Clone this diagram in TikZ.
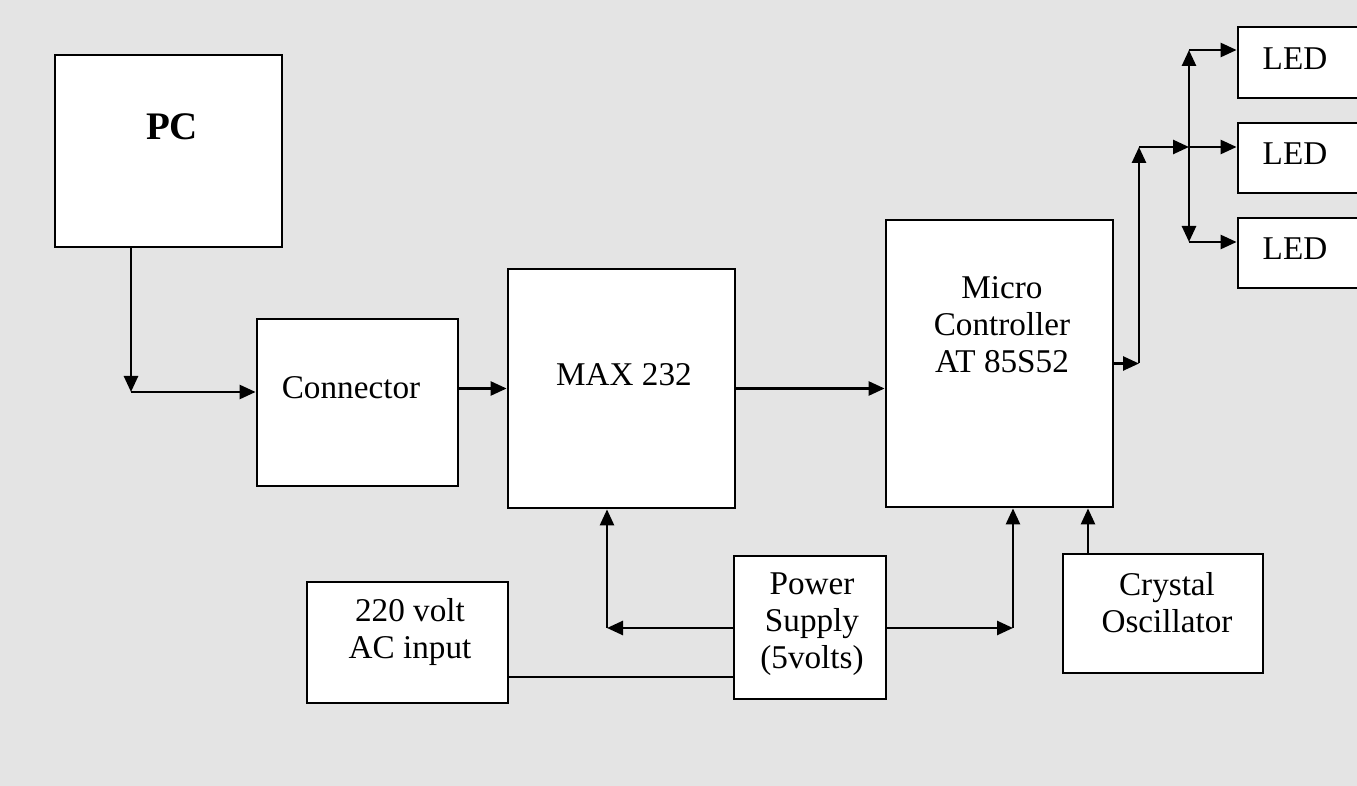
\documentclass[tikz,border=0pt]{standalone}
\usepackage{fontspec}
\setmainfont{Liberation Serif}
\usetikzlibrary{arrows.meta,positioning}
\definecolor{paperCol}{RGB}{228,228,228}

\begin{document}
\begin{tikzpicture}[
    x=0.5pt, y=-0.5pt,
    >={Triangle[length=8pt,width=7pt]},
    blk/.style={draw, line width=1.4pt, fill=white, inner sep=0pt},
    lbl/.style={font=\fontsize{16.6}{18.5}\selectfont, align=center, inner sep=0pt},
    wire/.style={line width=1.3pt},
    flow/.style={->, line width=1.3pt}
]

    % ---------------- page ----------------
    \useasboundingbox (0,0) rectangle (1357,786);
    \fill[paperCol] (0,0) rectangle (1357,786);

    % ---------------- blocks ----------------
    \node[blk, minimum width=113.5pt, minimum height=96pt] (pc) at (168.5,151) {};
    \node[blk, minimum width=100.5pt, minimum height=83.5pt] (conn) at (357.5,402.5) {};
    \node[blk, minimum width=113.5pt, minimum height=119.5pt] (max) at (621.5,388.5) {};
    \node[blk, minimum width=113.5pt, minimum height=143.5pt] (mcu) at (999.5,363.5) {};
    \node[blk, minimum width=61pt, minimum height=35.5pt] (led1) at (1299,62.5) {};
    \node[blk, minimum width=61pt, minimum height=35pt] (led2) at (1299,158) {};
    \node[blk, minimum width=61pt, minimum height=35pt] (led3) at (1299,253) {};
    \node[blk, minimum width=100.5pt, minimum height=60.5pt] (ac) at (407.5,642.5) {};
    \node[blk, minimum width=76pt, minimum height=71.5pt] (pwr) at (810,627.5) {};
    \node[blk, minimum width=100pt, minimum height=59.5pt] (xtal) at (1163,613.5) {};

    % ---------------- labels ----------------
    \node[lbl, font=\fontsize{19.5}{22}\selectfont\bfseries] (pcTxt) at (172,127) {PC};
    \node[lbl] (connTxt) at (351,388) {Connector};
    \node[lbl] (maxTxt) at (624,375) {MAX 232};
    \node[lbl] (mcuTxt) at (1002,325) {Micro\\Controller\\AT 85S52};
    \node[lbl] (led1Txt) at (1295,59) {LED};
    \node[lbl] (led2Txt) at (1295,154) {LED};
    \node[lbl] (led3Txt) at (1295,249) {LED};
    \node[lbl] (acTxt) at (410,632) {220 volt\\AC input};
    \node[lbl] (pwrTxt) at (812,624) {Power\\Supply\\(5volts)};
    \node[lbl] (xtalTxt) at (1167,603) {Crystal\\Oscillator};

    % ---------------- bends ----------------
    \coordinate (pcDrop) at (131,392);
    \coordinate (mcuOut) at (1139,363.5);
    \coordinate (mcuUp) at (1139,147);
    \coordinate (fork) at (1189,147);
    \coordinate (forkUp) at (1189,50);
    \coordinate (forkDn) at (1189,242);
    \coordinate (pwrLeft) at (607,628);
    \coordinate (pwrRight) at (1013,628);
    \coordinate (acLine) at (0,677);
    \coordinate (xtalUp) at (1088,0);

    % ---------------- data path ----------------
    \draw[flow] (pcDrop |- pc.south) -- (pcDrop);
    \draw[flow] (pcDrop) -- (pcDrop -| conn.west);
    \draw[flow] (conn.east |- max.west) -- (max.west);
    \draw[flow] (max.east) -- (max.east -| mcu.west);

    % ---------------- LED outputs ----------------
    \draw[flow] (mcu.east |- mcuOut) -- (mcuOut);
    \draw[flow] (mcuOut) -- (mcuUp);
    \draw[flow] (mcuUp) -- (fork);
    \draw[flow] (fork) -- (fork -| led2.west);
    \draw[flow] (fork) -- (forkUp);
    \draw[flow] (forkUp) -- (forkUp -| led1.west);
    \draw[flow] (fork) -- (forkDn);
    \draw[flow] (forkDn) -- (forkDn -| led3.west);

    % ---------------- supply ----------------
    \draw[wire] (ac.east |- acLine) -- (pwr.west |- acLine);
    \draw[flow] (pwr.west |- pwrLeft) -- (pwrLeft);
    \draw[flow] (pwrLeft) -- (pwrLeft |- max.south);
    \draw[flow] (pwr.east |- pwrRight) -- (pwrRight);
    \draw[flow] (pwrRight) -- (pwrRight |- mcu.south);
    \draw[flow] (xtal.north -| xtalUp) -- (mcu.south -| xtalUp);

\end{tikzpicture}
\end{document}
